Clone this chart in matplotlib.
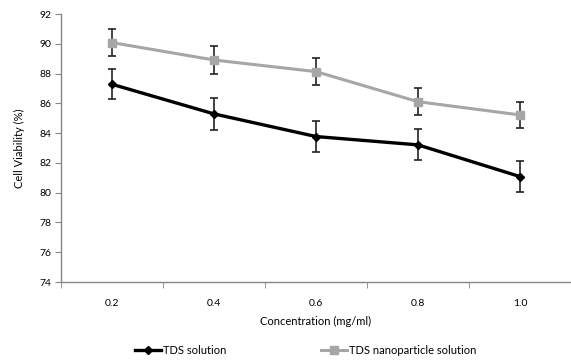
import matplotlib
matplotlib.use("Agg")
import matplotlib.pyplot as plt
from matplotlib.lines import Line2D
import numpy as np

categories = ["0.2", "0.4", "0.6", "0.8", "1.0"]
tds_solution = [87.28, 85.29, 83.77, 83.21, 81.08]
tds_solution_err = [1.02, 1.05, 1.05, 1.04, 1.04]
tds_nano = [90.08, 88.91, 88.13, 86.11, 85.22]
tds_nano_err = [0.90, 0.92, 0.92, 0.90, 0.90]

plt.rcParams['font.family'] = ['Lato', 'DejaVu Sans']

W, H = 571, 364
fig = plt.figure(figsize=(W / 100, H / 100), dpi=100)
ax = fig.add_axes([61 / W, (H - 282) / H, (571 - 61) / W, (282 - 14) / H])

x = np.arange(len(categories))
black_style = dict(color='black', lw=2.4, marker='D', ms=4.5)
grey_style = dict(color='#a6a6a6', lw=2.2, marker='s', ms=6)
ax.errorbar(x, tds_solution, yerr=tds_solution_err, ecolor='#222222',
            elinewidth=1.2, capsize=3, capthick=1.2, zorder=3, **black_style)
ax.errorbar(x, tds_nano, yerr=tds_nano_err, ecolor='#222222',
            elinewidth=1.2, capsize=3, capthick=1.2, zorder=3, **grey_style)

ax.set_xlim(-0.5, len(categories) - 0.5)
ax.set_ylim(74, 92)
ax.set_yticks(np.arange(74, 93, 2))
ax.set_xticks(x)
ax.set_xticklabels(categories)
ax.set_xticks(np.arange(-0.5, len(categories), 1.0), minor=True)
ax.tick_params(axis='x', which='major', length=0, pad=12, labelsize=7.5)
ax.tick_params(axis='x', which='minor', length=4, color='#868686', direction='out')
ax.tick_params(axis='y', length=4, color='#868686', labelsize=7.5, pad=3)

for s in ['top', 'right']:
    ax.spines[s].set_visible(False)
for s in ['left', 'bottom']:
    ax.spines[s].set_color('#868686')
    ax.spines[s].set_linewidth(1.0)

ax.set_ylabel('Cell Viability (%)', fontsize=8, labelpad=10)
ax.set_xlabel('Concentration (mg/ml)', fontsize=8, labelpad=6)

handles = [Line2D([], [], **black_style), Line2D([], [], **grey_style)]
labels = ['TDS solution', 'TDS nanoparticle solution']
fig.legend(handles, labels, loc='lower center', ncol=2, frameon=False, fontsize=8,
           bbox_to_anchor=(0.535, -0.005), columnspacing=8.5, handlelength=2.4,
           handletextpad=0.15)

fig.savefig('out.png', dpi=100)
